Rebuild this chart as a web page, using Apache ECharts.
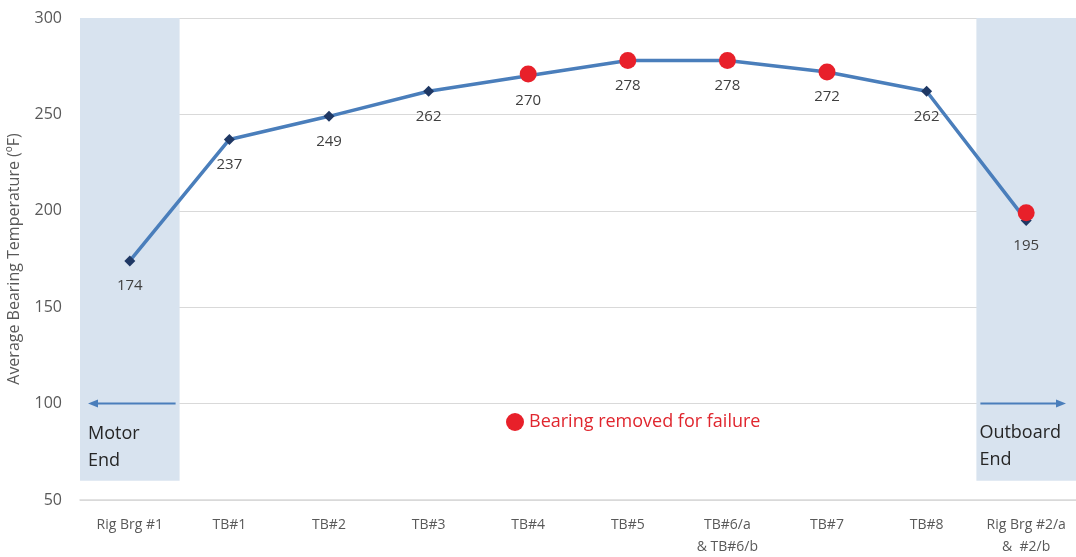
<!DOCTYPE html>
<html>
<head>
<meta charset="utf-8">
<script src="https://cdn.jsdelivr.net/npm/echarts@6/dist/echarts.min.js"></script>
<style>
  html, body { margin: 0; padding: 0; background: #fff; }
  #chart { width: 1076px; height: 557px; }
</style>
</head>
<body>
<div id="chart"></div>
<script>
// --- data ---
const categories = ['Rig Brg #1', 'TB#1', 'TB#2', 'TB#3', 'TB#4', 'TB#5',
  'TB#6/a\n& TB#6/b', 'TB#7', 'TB#8', 'Rig Brg #2/a\n&  #2/b'];
const avgTemp = [174, 237, 249, 262, 270, 278, 278, 272, 262, 195];
const removed = [null, null, null, null, 271, 278, 278, 272, null, 199];
// shaded end zones: from 60 up to 300
const zoneBase = [60, null, null, null, null, null, null, null, null, 60];
const zoneHeight = [240, null, null, null, null, null, null, null, null, 240];

const font = '"Open Sans", Lato, sans-serif';
const chart = echarts.init(document.getElementById('chart'));

chart.setOption({
  animation: false,
  textStyle: { fontFamily: font },
  grid: { left: 80, right: 0, top: 18, bottom: 57, outerBoundsMode: 'none', containLabel: false },
  legend: {
    data: [{ name: 'Bearing removed for failure', icon: 'circle' }],
    left: 501, top: 408,
    itemWidth: 18, itemHeight: 18, itemGap: 9,
    textStyle: { color: '#e0262e', fontSize: 18, fontFamily: font }
  },
  xAxis: {
    type: 'category',
    data: categories,
    axisTick: { show: false },
    axisLine: { lineStyle: { color: '#d9d9d9', width: 1.5 } },
    axisLabel: { color: '#595959', fontSize: 14, margin: 14, lineHeight: 22, interval: 0 }
  },
  yAxis: {
    type: 'value',
    min: 50, max: 300, interval: 50,
    name: 'Average Bearing Temperature (ºF)',
    nameLocation: 'middle', nameGap: 58,
    nameTextStyle: { color: '#595959', fontSize: 16 },
    axisLine: { show: false },
    axisTick: { show: false },
    axisLabel: { color: '#595959', fontSize: 16, margin: 18 },
    splitLine: { lineStyle: { color: '#d9d9d9', width: 1 } }
  },
  series: [
    {
      type: 'bar', stack: 'zone', data: zoneBase, barWidth: '100%',
      itemStyle: { color: 'transparent' }, silent: true, z: 0
    },
    {
      type: 'bar', stack: 'zone', data: zoneHeight, barWidth: '100%',
      itemStyle: { color: '#d8e3ef' }, silent: true, z: 0
    },
    {
      name: 'Avg',
      type: 'line',
      data: avgTemp,
      symbol: 'diamond', symbolSize: 11,
      lineStyle: { color: '#4a7ebb', width: 3.5 },
      itemStyle: { color: '#1f3864' },
      label: {
        show: true, position: 'bottom', distance: 12,
        color: '#404040', fontSize: 15
      },
      z: 3
    },
    {
      name: 'Bearing removed for failure',
      type: 'scatter',
      data: removed,
      symbol: 'circle', symbolSize: 17,
      itemStyle: { color: '#e8202a', opacity: 1 },
      z: 4
    }
  ]
});

// end-zone arrows and captions, placed through the axis scales
function drawNotes() {
  const c0 = chart.convertToPixel({ gridIndex: 0 }, [0, 100]);
  const c1 = chart.convertToPixel({ gridIndex: 0 }, [1, 100]);
  const c9 = chart.convertToPixel({ gridIndex: 0 }, [9, 100]);
  const half = (c1[0] - c0[0]) / 2;
  const y = c0[1];
  const arrowStyle = { stroke: '#4a7ebb', lineWidth: 2 };
  chart.setOption({
    graphic: [
      { type: 'line', shape: { x1: c0[0] + half - 4, y1: y, x2: c0[0] - half + 14, y2: y }, style: arrowStyle, z: 10 },
      { type: 'polygon', shape: { points: [[c0[0] - half + 8, y], [c0[0] - half + 18, y - 4], [c0[0] - half + 18, y + 4]] }, style: { fill: '#4a7ebb' }, z: 10 },
      { type: 'line', shape: { x1: c9[0] - half + 4, y1: y, x2: c9[0] + half - 16, y2: y }, style: arrowStyle, z: 10 },
      { type: 'polygon', shape: { points: [[c9[0] + half - 10, y], [c9[0] + half - 20, y - 4], [c9[0] + half - 20, y + 4]] }, style: { fill: '#4a7ebb' }, z: 10 },
      { type: 'text', left: c0[0] - half + 8, top: y + 17, style: { text: 'Motor\nEnd', fill: '#262626', font: '18px ' + font, lineHeight: 27 }, z: 10 },
      { type: 'text', left: c9[0] - half + 3, top: y + 16, style: { text: 'Outboard\nEnd', fill: '#262626', font: '18px ' + font, lineHeight: 27 }, z: 10 }
    ]
  });
}
drawNotes();
</script>
</body>
</html>
